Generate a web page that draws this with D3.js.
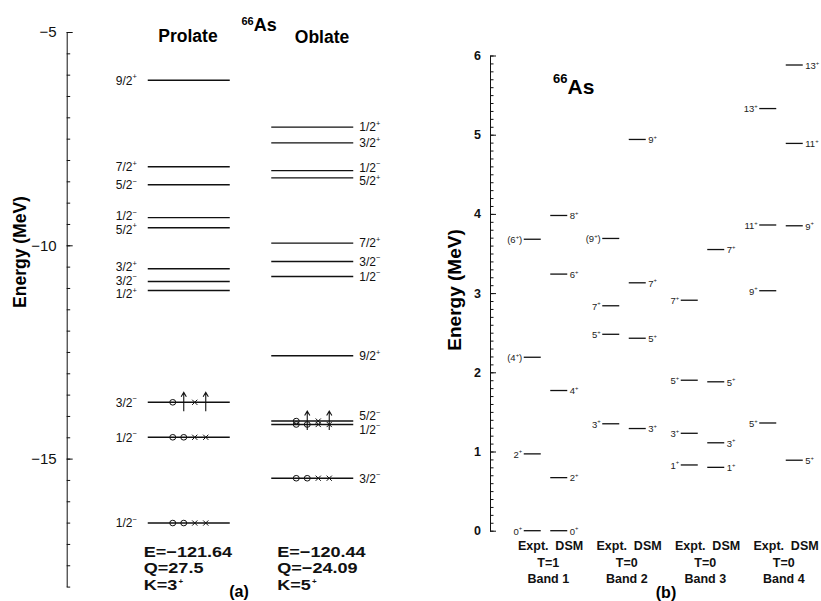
<!DOCTYPE html>
<html>
<head>
<meta charset="utf-8">
<script src="https://cdn.jsdelivr.net/npm/d3@7"></script>
<style>
body { margin: 0; background: #fff; }
svg { display: block; font-family: "Liberation Sans", Arial, Helvetica, sans-serif; }
</style>
</head>
<body>
<svg id="chart" width="821" height="601"></svg>
<script>
// ---- panel (a): single-particle levels, prolate vs oblate
const shapes = ["Prolate", "Oblate"];

const prolateE = [-6.13, -8.16, -8.58, -9.35, -9.59, -10.55, -10.85, -11.06, -13.68, -14.50, -16.51];
const prolateJ = ["9/2", "7/2", "5/2", "1/2", "5/2", "3/2", "3/2", "1/2", "3/2", "1/2", "1/2"];
const prolateP = ["+", "+", "−", "−", "+", "+", "−", "+", "−", "−", "−"];
const prolateMarks = ["", "", "", "", "", "", "", "", "o↑x↑", "ooxx", "ooxx"];

const oblateE = [-7.23, -7.60, -8.25, -8.42, -9.95, -10.38, -10.73, -12.59, -14.12, -14.20, -15.46];
const oblateJ = ["1/2", "3/2", "1/2", "5/2", "7/2", "3/2", "1/2", "9/2", "5/2", "1/2", "3/2"];
const oblateP = ["+", "+", "−", "+", "+", "−", "−", "+", "−", "−", "−"];
const oblateMarks = ["", "", "", "", "", "", "", "", "o↑x↑", "ooxx", "ooxx"];

const bandEnergy = [-121.64, -120.44];
const quadMoment = [27.5, -24.09];
const kValue = ["3", "5"];

const leftTicks = d3.range(-5, -18.01, -0.5);
const leftMajor = [-5, -10, -15];

// ---- panel (b): bands, experiment vs DSM
const bands = ["Band 1", "Band 2", "Band 3", "Band 4"];
const isospin = ["T=1", "T=0", "T=0", "T=0"];

const exptE = [
  [0, 0.97, 2.19, 3.68],
  [1.35, 2.48, 2.84, 3.69],
  [0.83, 1.23, 1.90, 2.91],
  [1.36, 3.03, 3.86, 5.33]
];
const exptJ = [
  ["0", "2", "(4)", "(6)"],
  ["3", "5", "7", "(9)"],
  ["1", "3", "5", "7"],
  ["5", "9", "11", "13"]
];
const dsmE = [
  [0, 0.67, 1.77, 3.24, 3.98],
  [1.29, 2.43, 3.13, 4.94],
  [0.80, 1.11, 1.88, 3.55],
  [0.89, 3.85, 4.89, 5.88]
];
const dsmJ = [
  ["0", "2", "4", "6", "8"],
  ["3", "5", "7", "9"],
  ["1", "3", "5", "7"],
  ["5", "9", "11", "13"]
];

const svg = d3.select("#chart");
const ink = "#111";
const fmt = v => String(v).replace("-", "−");

// write "J^P" with small raised parity, handles "(4)" style tentative spins
function spinText(sel, j, p, size) {
  const tent = j.startsWith("(");
  const core = tent ? j.slice(1, -1) : j;
  sel.append("tspan").text((tent ? "(" : "") + core);
  sel.append("tspan").attr("dy", -size * 0.45).attr("font-size", size * 0.62).text(p);
  if (tent) sel.append("tspan").attr("dy", size * 0.45).text(")");
}

// push overlapping labels apart
function spread(ys, gap) {
  const order = d3.range(ys.length).sort((a, b) => ys[a] - ys[b]);
  const out = ys.slice();
  for (let it = 0; it < 60; it++) {
    let moved = false;
    for (let k = 1; k < order.length; k++) {
      const a = order[k - 1], b = order[k];
      const d = out[b] - out[a];
      if (d < gap - 0.01) { const s = (gap - d) / 2; out[a] -= s; out[b] += s; moved = true; }
    }
    if (!moved) break;
  }
  return out;
}

// wide, squat bold text like the original print
function widen(t, k) {
  const w = t.node().getComputedTextLength();
  t.attr("textLength", w * k).attr("lengthAdjust", "spacingAndGlyphs");
}

// ================= panel (a)
const yA = d3.scaleLinear().domain([-5, -18]).range([32, 586.6]);
const xA = d3.scaleBand().domain(shapes).range([127, 374]);
const half = 41;

const axA = svg.append("g").attr("transform", "translate(66.7,0)");
axA.append("g")
  .call(d3.axisLeft(yA).tickValues(leftTicks).tickSize(-3.5).tickSizeOuter(0).tickFormat(""))
  .call(g => g.selectAll("line,path").attr("stroke", ink));
axA.append("g")
  .call(d3.axisLeft(yA).tickValues(leftMajor).tickSize(-6).tickSizeOuter(0).tickPadding(10).tickFormat(d3.format("d")))
  .call(g => g.select(".domain").remove())
  .call(g => g.selectAll("line").attr("stroke", ink))
  .call(g => g.selectAll("text").attr("font-size", 15).attr("fill", ink)
    .attr("font-family", "Liberation Sans, Arial, sans-serif"));

svg.append("text")
  .attr("transform", "translate(26,252) rotate(-90)")
  .attr("text-anchor", "middle").attr("font-size", 17.5).attr("font-weight", "bold")
  .text("Energy (MeV)");

const levelSets = [
  { E: prolateE, J: prolateJ, P: prolateP, M: prolateMarks },
  { E: oblateE, J: oblateJ, P: oblateP, M: oblateMarks }
];
const slot = d3.scalePoint().domain([0, 1, 2, 3]).range([25, 58]);

levelSets.forEach((set, si) => {
  const cx = xA(shapes[si]) + xA.bandwidth() / 2;
  const x0 = cx - half, x1 = cx + half;
  const g = svg.append("g");
  const lv = set.E.map((e, i) => ({ e, j: set.J[i], p: set.P[i], m: set.M[i] }));

  g.selectAll("line.lvl").data(lv).join("line")
    .attr("class", "lvl")
    .attr("x1", x0).attr("x2", x1)
    .attr("y1", d => yA(d.e)).attr("y2", d => yA(d.e))
    .attr("stroke", ink).attr("stroke-width", 1.4);

  const ly = spread(lv.map(d => yA(d.e)), 13.5);
  g.selectAll("text.lab").data(lv).join("text")
    .attr("class", "lab")
    .attr("x", si === 0 ? x0 - 11 : x1 + 6)
    .attr("y", (d, i) => ly[i])
    .attr("dy", "0.36em")
    .attr("text-anchor", si === 0 ? "end" : "start")
    .attr("font-size", 12).attr("fill", ink)
    .each(function (d) { spinText(d3.select(this), d.j, d.p, 12); });

  // particle/hole markers
  lv.forEach(d => {
    if (!d.m) return;
    const y = yA(d.e);
    Array.from(d.m).forEach((c, k) => {
      const x = x0 + slot(k);
      if (c === "o") {
        g.append("ellipse").attr("cx", x).attr("cy", y).attr("rx", 3).attr("ry", 2.8)
          .attr("fill", "none").attr("stroke", ink).attr("stroke-width", 1);
      } else if (c === "x") {
        g.append("path").attr("d", `M${x - 2.6},${y - 2.6}L${x + 2.6},${y + 2.6}M${x - 2.6},${y + 2.6}L${x + 2.6},${y - 2.6}`)
          .attr("stroke", ink).attr("stroke-width", 1);
      } else {
        g.append("path").attr("d", `M${x},${y + 9}L${x},${y - 10}M${x - 2.6},${y - 5.5}L${x},${y - 10}L${x + 2.6},${y - 5.5}`)
          .attr("fill", "none").attr("stroke", ink).attr("stroke-width", 1.1);
      }
    });
  });

  // E, Q, K block
  const info = g.append("g").attr("font-size", 14.8).attr("font-weight", "bold").attr("fill", ink);
  const tx = x0 + (si === 0 ? -4 : 6);
  info.append("text").attr("x", tx).attr("y", 556.5).text("E=" + fmt(bandEnergy[si].toFixed(2)))
    .call(widen, 1.22);
  info.append("text").attr("x", tx).attr("y", 573.4).text("Q=" + fmt(quadMoment[si]))
    .call(widen, 1.22);
  info.append("text").attr("x", tx).attr("y", 590.2)
    .call(t => {
      t.append("tspan").text("K=" + kValue[si]).call(widen, 1.22);
      t.append("tspan").attr("dx", 1).attr("dy", -6.2).attr("font-size", 8).text("+");
    });
});

svg.append("text").attr("x", 188).attr("y", 41.7).attr("text-anchor", "middle")
  .attr("font-size", 17.5).attr("font-weight", "bold").text(shapes[0]);
svg.append("text").attr("x", 322).attr("y", 43.3).attr("text-anchor", "middle")
  .attr("font-size", 17.5).attr("font-weight", "bold").text(shapes[1]);

const nucA = svg.append("text").attr("x", 241.5).attr("y", 31).attr("font-weight", "bold");
nucA.append("tspan").attr("font-size", 11).attr("dy", -6).text("66");
nucA.append("tspan").attr("font-size", 18).attr("dy", 6).text("As");

svg.append("text").attr("x", 239).attr("y", 596.5).attr("text-anchor", "middle")
  .attr("font-size", 16).attr("font-weight", "bold").text("(a)");

// ================= panel (b)
const yB = d3.scaleLinear().domain([0, 6]).range([530.7, 55.5]);
const xB = d3.scaleBand().domain(bands).range([506, 820]);

const axB = svg.append("g").attr("transform", "translate(490,0)");
axB.append("g")
  .call(d3.axisLeft(yB).ticks(60).tickSize(-3.5).tickSizeOuter(0).tickFormat(""))
  .call(g => g.selectAll("line,path").attr("stroke", ink));
axB.append("g")
  .call(d3.axisLeft(yB).ticks(6).tickSize(-6).tickSizeOuter(0).tickPadding(9).tickFormat(d3.format("d")))
  .call(g => g.select(".domain").remove())
  .call(g => g.selectAll("line").attr("stroke", ink))
  .call(g => g.selectAll("text").attr("font-size", 12.5).attr("font-weight", "bold").attr("fill", ink)
    .attr("font-family", "Liberation Sans, Arial, sans-serif"));

svg.append("text")
  .attr("transform", "translate(461,290) rotate(-90)")
  .attr("text-anchor", "middle").attr("font-size", 19).attr("font-weight", "bold")
  .text("Energy (MeV)");

bands.forEach((b, bi) => {
  const cx = xB(b) + xB.bandwidth() / 2;
  const g = svg.append("g");
  const cols = [
    { E: exptE[bi], J: exptJ[bi], x0: cx - 21.5, x1: cx - 4.5, side: "left" },
    { E: dsmE[bi], J: dsmJ[bi], x0: cx + 5, x1: cx + 22, side: "right" }
  ];
  cols.forEach(col => {
    const lv = col.E.map((e, i) => ({ e, j: col.J[i] }));
    g.selectAll(null).data(lv).join("line")
      .attr("x1", col.x0).attr("x2", col.x1)
      .attr("y1", d => yB(d.e)).attr("y2", d => yB(d.e))
      .attr("stroke", ink).attr("stroke-width", 1.3);
    g.selectAll(null).data(lv).join("text")
      .attr("x", col.side === "left" ? col.x0 - 1.5 : col.x1 + 2.5)
      .attr("y", d => yB(d.e))
      .attr("dy", "0.4em")
      .attr("text-anchor", col.side === "left" ? "end" : "start")
      .attr("font-size", 9.5).attr("fill", "#222")
      .each(function (d) { spinText(d3.select(this), d.j, "+", 9.5); });
  });

  const lab = g.append("g").attr("font-size", 12.5).attr("font-weight", "bold").attr("fill", ink)
    .attr("text-anchor", "middle");
  lab.append("text").attr("x", cx - 12).attr("y", 549.5).text("Expt.");
  lab.append("text").attr("x", cx + 24).attr("y", 549.5).text("DSM");
  lab.append("text").attr("x", cx + 3).attr("y", 566.5).text(isospin[bi]);
  lab.append("text").attr("x", cx + 3).attr("y", 583.3).text(b);
});

const nucB = svg.append("text").attr("x", 553).attr("y", 94).attr("font-weight", "bold");
nucB.append("tspan").attr("font-size", 13).attr("dy", -11).text("66");
nucB.append("tspan").attr("font-size", 21).attr("dy", 11).text("As");

svg.append("text").attr("x", 666).attr("y", 597.5).attr("text-anchor", "middle")
  .attr("font-size", 16).attr("font-weight", "bold").text("(b)");
</script>
</body>
</html>
